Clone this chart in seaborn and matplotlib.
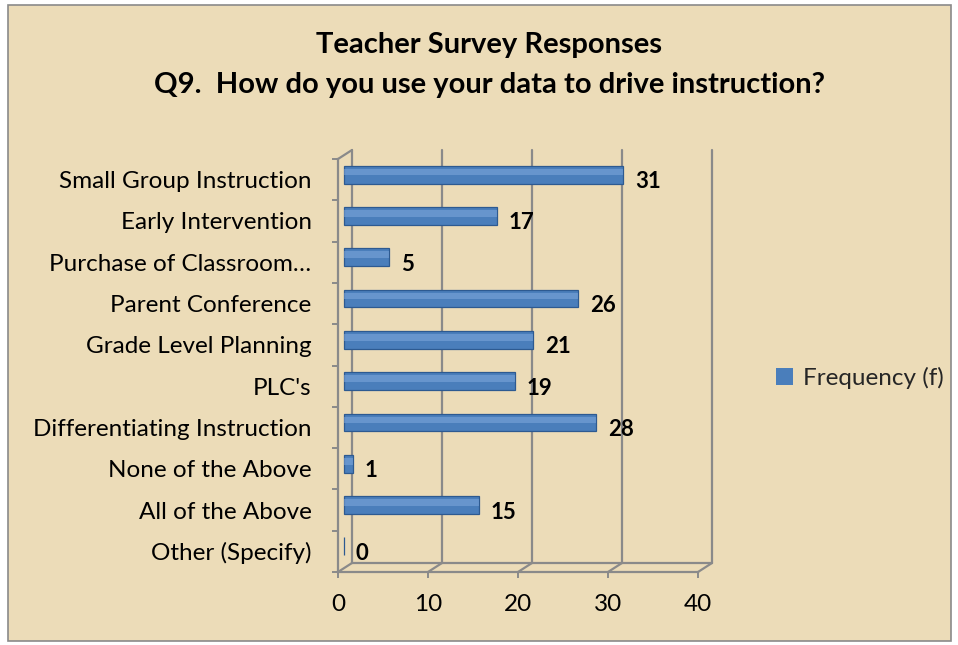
import matplotlib
matplotlib.use("Agg")
import matplotlib.pyplot as plt
import matplotlib.transforms as mtransforms
from matplotlib.patches import Rectangle, Patch
import pandas as pd
import seaborn as sns

# Chart data
categories = ["Small Group Instruction", "Early Intervention", "Purchase of Classroom\u2026",
              "Parent Conference", "Grade Level Planning", "PLC's",
              "Differentiating Instruction", "None of the Above", "All of the Above",
              "Other (Specify)"]
frequency = [31, 17, 5, 26, 21, 19, 28, 1, 15, 0]
x_ticks = [0, 10, 20, 30, 40]
series_name = "Frequency (f)"
title_lines = ["Teacher Survey Responses", "Q9.  How do you use your data to drive instruction?"]

palette = {
    "paper": "#ecdcb8", "frame": "#8a8a8a",
    "bar": "#4a7ebb", "edge": "#2d5a91", "shine": "#7fa8dc",
    "text": "#000000",
}

W, H = 958, 645
df = pd.DataFrame({"category": categories, "freq": frequency})

sns.set_style("white")
plt.rcParams["font.family"] = ["Lato", "DejaVu Sans"]

fig = plt.figure(figsize=(W / 100, H / 100), dpi=100)
fig.patch.set_facecolor("white")

# parchment panel with a grey frame
fig.patches.append(Rectangle((8 / W, 1 - 641 / H), (951 - 8) / W, (641 - 5) / H,
                             transform=fig.transFigure, facecolor=palette["paper"],
                             edgecolor=palette["frame"], lw=1.2, zorder=-5))

# front plane of the plot area
ax_l, ax_r, ax_t, ax_b = 338, 698, 159, 572
ax = fig.add_axes([ax_l / W, 1 - ax_b / H, (ax_r - ax_l) / W, (ax_b - ax_t) / H])
ax.set_facecolor("none")

sns.barplot(data=df, x="freq", y="category", orient="h", width=0.43,
            color=palette["bar"], edgecolor=palette["edge"], linewidth=0.9,
            saturation=1, ax=ax)

n = len(categories)
ax.set_xlim(x_ticks[0], x_ticks[-1])
ax.set_ylim(n - 0.5, -0.5)

# depth offset for the "3D" back plane and the bars
back = mtransforms.offset_copy(ax.transData, fig=fig, x=14, y=9, units="dots")
mid = mtransforms.offset_copy(ax.transData, fig=fig, x=6, y=5, units="dots")
for p in ax.patches:
    p.set_transform(mid)
    p.set_zorder(3)

# cylinder highlight
ax.barh([i - 0.06 for i in range(n)], frequency, height=0.16, color=palette["shine"],
        alpha=0.55, linewidth=0, transform=mid, zorder=4)

# back wall gridlines and floor
gcol = palette["frame"]
for xv in x_ticks:
    ax.plot([xv, xv], [n - 0.5, -0.5], color=gcol, lw=1.6, transform=back,
            clip_on=False, zorder=1)
ax.plot([x_ticks[0], x_ticks[-1]], [n - 0.5, n - 0.5], color=gcol, lw=1.6,
        transform=back, clip_on=False, zorder=1)

# diagonals connecting front and back planes
ax_w_px = ax_r - ax_l
ax_h_px = ax_b - ax_t
dx = 14 * (x_ticks[-1] - x_ticks[0]) / ax_w_px
dy = 9 * n / ax_h_px
for xv in x_ticks:
    ax.plot([xv, xv + dx], [n - 0.5, n - 0.5 - dy], color=gcol, lw=1.6,
            clip_on=False, zorder=1)
ax.plot([0, dx], [-0.5, -0.5 - dy], color=gcol, lw=1.6, clip_on=False, zorder=1)

# value labels
lab = mtransforms.offset_copy(ax.transData, fig=fig, x=18, y=-2, units="dots")
for i, v in enumerate(frequency):
    ax.text(v, i, str(v), transform=lab, ha="left", va="center",
            fontsize=16, fontweight="bold", color=palette["text"])

# spines and ticks
sns.despine(ax=ax, top=True, right=True)
for s in ["left", "bottom"]:
    ax.spines[s].set_color(gcol)
    ax.spines[s].set_linewidth(1.6)

ax.set_xticks(x_ticks)
ax.set_xticklabels([str(t) for t in x_ticks])
ax.set_yticks([i - 0.5 for i in range(n + 1)], minor=True)
ax.tick_params(axis="y", which="major", length=0, pad=19, labelsize=17.5,
               labelcolor=palette["text"])
ax.tick_params(axis="y", which="minor", length=4, width=1.4, color=gcol, left=True)
ax.tick_params(axis="x", which="major", length=4, width=1.4, color=gcol, bottom=True,
               pad=12, labelsize=17.5, labelcolor=palette["text"])
ax.set_xlabel("")
ax.set_ylabel("")
ax.grid(False)

# title
fig.text(489 / W, 1 - 45 / H, title_lines[0], ha="center", va="center",
         fontsize=21, fontweight="bold", color=palette["text"])
fig.text(489 / W, 1 - 85 / H, title_lines[1], ha="center", va="center",
         fontsize=21, fontweight="bold", color=palette["text"])

# legend
fig.legend(handles=[Patch(facecolor=palette["bar"], edgecolor="none")],
           labels=[series_name], loc="center left",
           bbox_to_anchor=(776 / W, 1 - 378 / H), frameon=False,
           handlelength=0.7, handleheight=0.7, handletextpad=0.4,
           borderpad=0, borderaxespad=0, fontsize=17.5)

fig.savefig("out.png", dpi=100)
